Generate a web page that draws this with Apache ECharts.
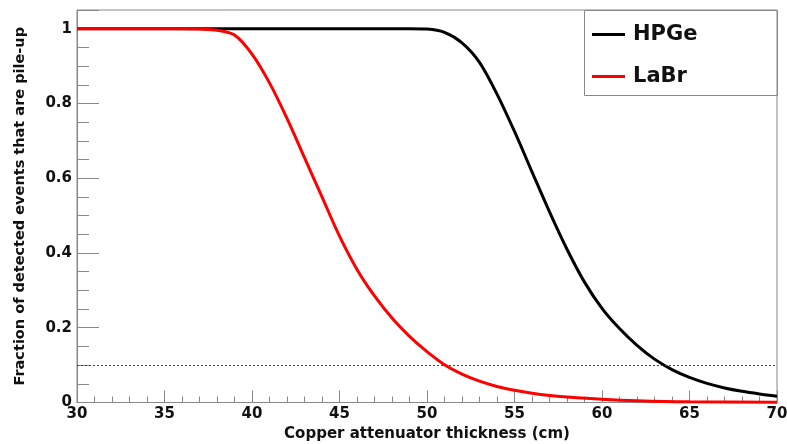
<!DOCTYPE html>
<html>
<head>
<meta charset="utf-8">
<script src="https://cdn.jsdelivr.net/npm/echarts@6/dist/echarts.min.js"></script>
<style>
html,body{margin:0;padding:0;background:#fff;}
#chart{width:787px;height:444px;}
</style>
</head>
<body>
<div id="chart"></div>
<script>
const seriesNames = ['HPGe', 'LaBr'];
const hpgeX = [30, 35, 40, 45, 48, 49, 50, 51, 52, 53, 54, 55, 56, 57, 58, 59, 60, 61, 62, 63, 64, 65, 66, 67, 68, 69, 70];
const hpgeY = [1, 1, 1, 1, 1, 1, 0.999, 0.99, 0.962, 0.91, 0.825, 0.725, 0.617, 0.51, 0.41, 0.322, 0.252, 0.198, 0.153, 0.116, 0.088, 0.067, 0.051, 0.039, 0.03, 0.023, 0.017];
const labrX = [30, 35, 36, 37, 38, 39, 40, 41, 42, 43, 44, 45, 46, 47, 48, 49, 50, 51, 52, 53, 54, 55, 56, 57, 58, 60, 62, 65, 70];
const labrY = [1, 1, 1, 0.999, 0.996, 0.983, 0.932, 0.855, 0.76, 0.655, 0.55, 0.445, 0.356, 0.285, 0.226, 0.177, 0.136, 0.101, 0.076, 0.057, 0.043, 0.033, 0.025, 0.019, 0.015, 0.009, 0.005, 0.002, 0.001];
const xTicks = [30, 35, 40, 45, 50, 55, 60, 65, 70];
const yTicks = [0, 0.2, 0.4, 0.6, 0.8, 1];
const thresholdLevel = 0.1;

const zip = (xs, ys) => xs.map((x, i) => [x, ys[i]]);
const FONT = 'DejaVu Sans, Liberation Sans, sans-serif';
const GREY = '#888';

const chart = echarts.init(document.getElementById('chart'), null, {renderer: 'canvas'});
chart.setOption({
  animation: false,
  backgroundColor: '#fff',
  grid: {left: 77, right: 10, top: 10, bottom: 41.5, show: true, borderColor: GREY, borderWidth: 1,
    containLabel: false, outerBoundsMode: 'none'},
  xAxis: {
    type: 'value', min: xTicks[0], max: xTicks[xTicks.length - 1], interval: 5,
    name: 'Copper attenuator thickness (cm)', nameLocation: 'middle', nameGap: 22,
    nameTextStyle: {fontFamily: FONT, fontWeight: 'bold', fontSize: 15, color: '#111'},
    axisLine: {lineStyle: {color: GREY, width: 1}},
    axisTick: {inside: true, length: 12, lineStyle: {color: GREY}},
    minorTick: {show: true, splitNumber: 5, length: 6, lineStyle: {color: GREY}},
    splitLine: {show: false},
    axisLabel: {fontFamily: FONT, fontWeight: 'bold', fontSize: 15, color: '#111', margin: 4}
  },
  yAxis: {
    type: 'value', min: yTicks[0], max: 1.05, interval: 0.2,
    name: 'Fraction of detected events that are pile-up', nameLocation: 'middle', nameGap: 49,
    nameTextStyle: {fontFamily: FONT, fontWeight: 'bold', fontSize: 14.5, color: '#111'},
    axisLine: {lineStyle: {color: GREY, width: 1}},
    axisTick: {inside: true, length: 22, lineStyle: {color: GREY}},
    minorTick: {show: true, splitNumber: 4, length: 12, lineStyle: {color: GREY}},
    splitLine: {show: false},
    axisLabel: {fontFamily: FONT, fontWeight: 'bold', fontSize: 15, color: '#111', margin: 5, showMaxLabel: false,
      formatter: v => (v > 1.001 ? '' : String(+v.toFixed(2)))}
  },
  legend: {
    orient: 'vertical', left: 592, top: 24, itemWidth: 33, itemHeight: 3, itemGap: 21,
    padding: 0, z: 10, icon: 'rect',
    textStyle: {fontFamily: FONT, fontWeight: 'bold', fontSize: 21, color: '#111', padding: [0, 0, 0, 3]},
    data: seriesNames
  },
  graphic: [{
    type: 'rect', z: 1, shape: {x: 584.5, y: 10.5, width: 193, height: 85},
    style: {fill: 'none', stroke: GREY, lineWidth: 1}
  }],
  series: [
    {
      name: seriesNames[0], type: 'line', data: zip(hpgeX, hpgeY), smooth: 0.3,
      showSymbol: false, symbol: 'none', lineStyle: {color: '#000', width: 3}, itemStyle: {color: '#000'}, z: 3,
      markLine: {silent: true, symbol: 'none', label: {show: false},
        lineStyle: {color: '#444', type: [2, 2], width: 1},
        data: [{yAxis: thresholdLevel}]}
    },
    {
      name: seriesNames[1], type: 'line', data: zip(labrX, labrY), smooth: 0.3,
      showSymbol: false, symbol: 'none', lineStyle: {color: '#ff0000', width: 3}, itemStyle: {color: '#ff0000'}, z: 4
    }
  ]
});
</script>
</body>
</html>
